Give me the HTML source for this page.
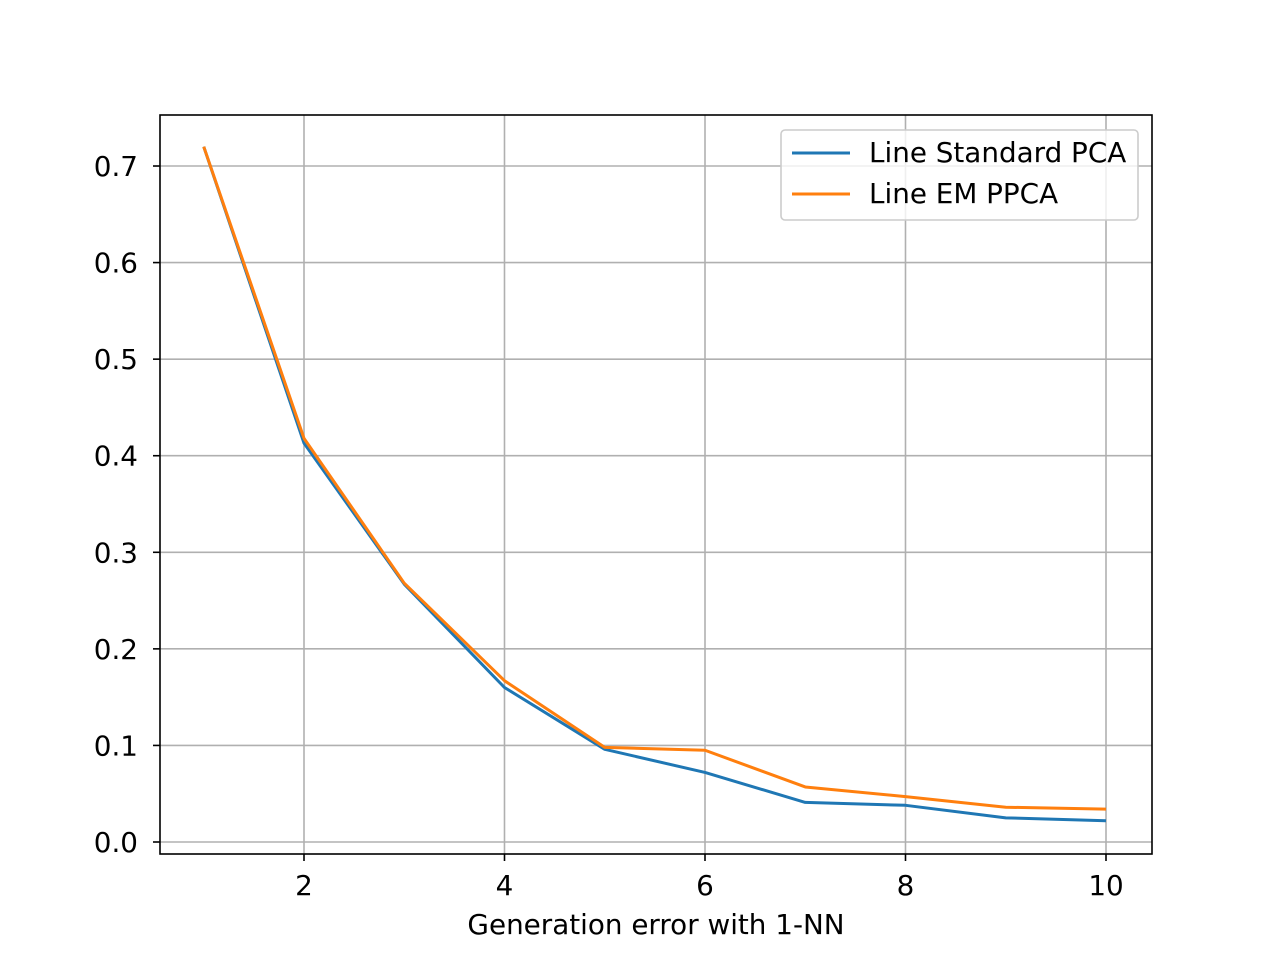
<!DOCTYPE html>
<html><head><meta charset="utf-8"><style>
html,body{margin:0;padding:0;background:#fff;}
svg text{font-family:"DejaVu Sans","Liberation Sans",sans-serif;font-size:27.8px;fill:#000;}
</style></head><body>
<svg id="chart" width="1280" height="960" xmlns="http://www.w3.org/2000/svg">
<rect width="1280" height="960" fill="#fff"/>
<g id="grid"></g>
<g id="series"></g>
<rect x="160" y="115" width="992" height="739" fill="none" stroke="#000" stroke-width="1.6"/>
<g id="ticks"></g>
<text x="656" y="934" text-anchor="middle">Generation error with 1-NN</text>
<g>
<rect x="781" y="130" width="357" height="90" rx="4" fill="#fff" fill-opacity="0.8" stroke="#ccc" stroke-width="1.6"/>
<g>
<line x1="792" y1="153" x2="850" y2="153" stroke="#1f77b4" stroke-width="3"/>
<text x="869" y="162">Line Standard PCA</text></g>
<g>
<line x1="792" y1="194" x2="850" y2="194" stroke="#ff7f0e" stroke-width="3"/>
<text x="869" y="203">Line EM PPCA</text></g>
</g>
</svg>
<script>
const xs=[1,2,3,4,5,6,7,8,9,10];
const standardPca=[0.72,0.413,0.267,0.160,0.096,0.072,0.041,0.038,0.025,0.022];
const emPpca=[0.72,0.418,0.268,0.167,0.098,0.095,0.057,0.047,0.036,0.034];
const xTicks=[2,4,6,8,10];
const yTicks=[0,0.1,0.2,0.3,0.4,0.5,0.6,0.7];
const yTickLabels=["0.0","0.1","0.2","0.3","0.4","0.5","0.6","0.7"];
const NS="http://www.w3.org/2000/svg";
const X=v=>304+(v-2)*100.25;
const Y=v=>842-v*965.7;
const grid=document.getElementById('grid'),ticks=document.getElementById('ticks'),series=document.getElementById('series');
function mk(t,a,p){const e=document.createElementNS(NS,t);for(const k in a)e.setAttribute(k,a[k]);p.appendChild(e);return e;}
xTicks.forEach(v=>{
 const g=mk('line',{x1:X(v),x2:X(v),y1:115,y2:854,stroke:'#b0b0b0','stroke-width':1.6},grid);
 
 
 mk('line',{x1:X(v),x2:X(v),y1:854,y2:861,stroke:'#000','stroke-width':1.6},ticks);
 const t=mk('text',{x:X(v),y:895,'text-anchor':'middle'},ticks);t.textContent=v;
 
 
});
yTicks.forEach((v,i)=>{
 const g=mk('line',{x1:160,x2:1152,y1:Y(v),y2:Y(v),stroke:'#b0b0b0','stroke-width':1.6},grid);
 
 
 mk('line',{x1:153,x2:160,y1:Y(v),y2:Y(v),stroke:'#000','stroke-width':1.6},ticks);
 const t=mk('text',{x:138,y:Y(v)+10,'text-anchor':'end'},ticks);t.textContent=yTickLabels[i];
 
 
});
[[standardPca,'#1f77b4','line-standard-pca'],[emPpca,'#ff7f0e','line-em-ppca']].forEach(([d,c,n])=>{
 const p=mk('polyline',{points:xs.map((x,i)=>X(x)+','+Y(d[i])).join(' '),fill:'none',stroke:c,'stroke-width':3,'stroke-linejoin':'round'},series);
 
 
});
</script>
</body></html>
